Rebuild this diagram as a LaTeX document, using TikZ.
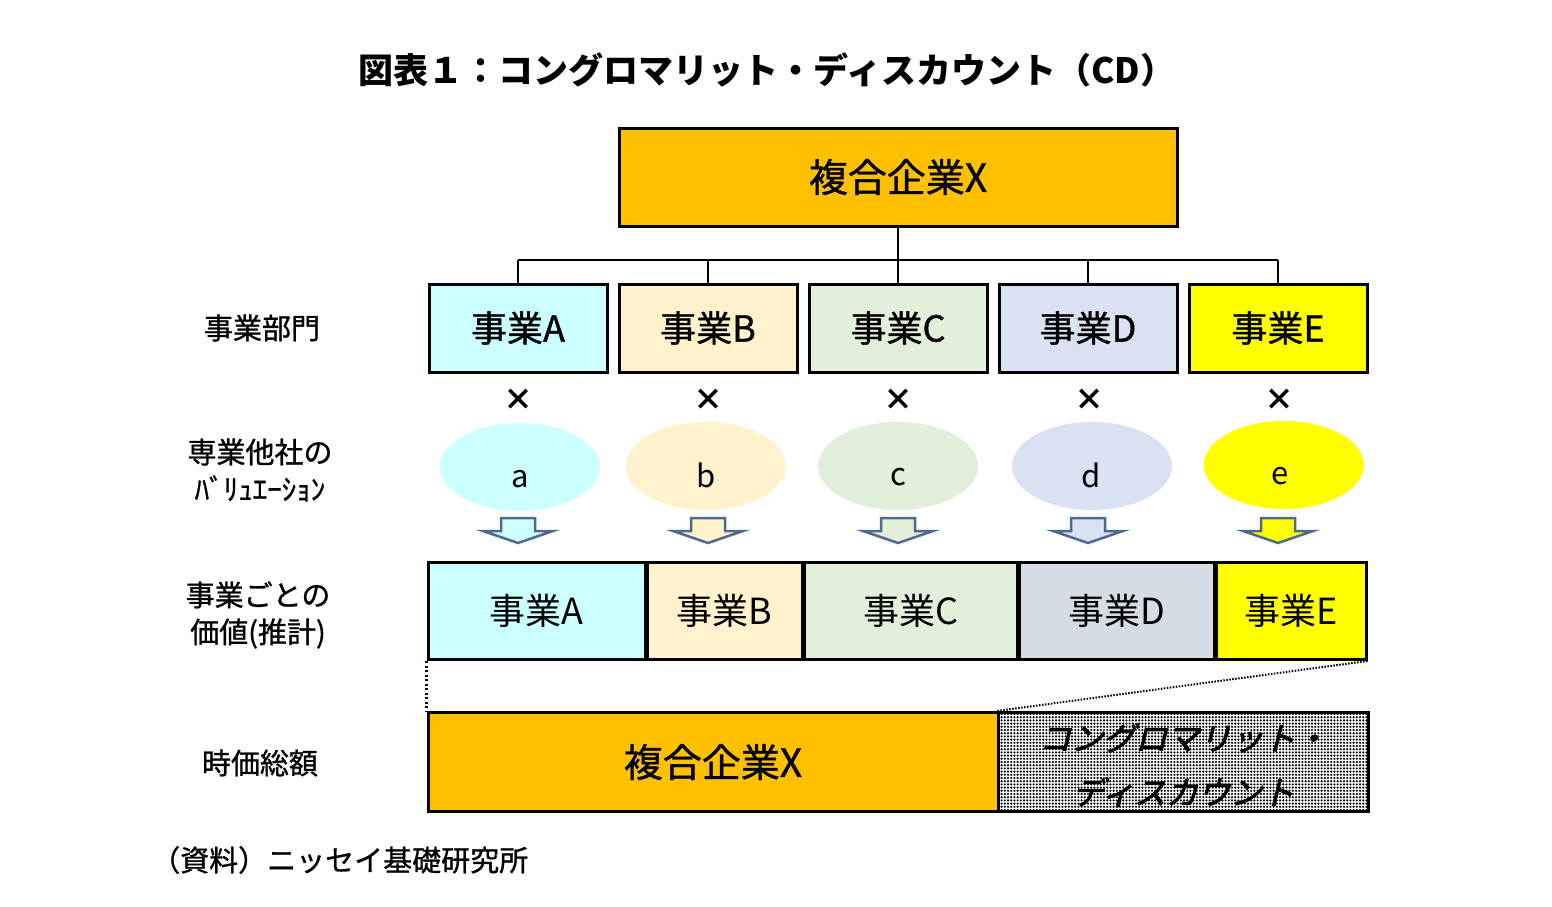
\documentclass[tikz,border=0pt]{standalone}
\usepackage{fontspec}
\setmainfont{Noto Sans CJK JP}
\newfontfamily\cjkmed[FakeBold=1.0]{Noto Sans CJK JP}
\newfontfamily\cjkbi[FakeSlant=0.25,FakeBold=2.5]{Noto Sans CJK JP}
\usetikzlibrary{patterns.meta,shapes.geometric}
\definecolor{cX}{HTML}{FFC000}
\definecolor{cA}{HTML}{CCFFFF}
\definecolor{cB}{HTML}{FFF2CC}
\definecolor{cC}{HTML}{E2EFDA}
\definecolor{cD}{HTML}{D9E1F2}
\definecolor{cDv}{HTML}{D6DCE4}
\definecolor{cE}{HTML}{FFFF00}
\definecolor{arr}{HTML}{4F6B8C}
\tikzset{
  box/.style={draw=black,line width=3pt,rectangle,inner sep=0pt,align=center},
  bizbox/.style={box,minimum width=178pt,minimum height=88pt,font=\cjkmed\fontsize{36}{40}\selectfont},
  valbox/.style={box,minimum height=97pt,font=\fontsize{36}{40}\selectfont},
  ell/.style={ellipse,draw=none,minimum width=160pt,minimum height=88pt,inner sep=0pt},
  elltext/.style={inner sep=0pt,font=\fontsize{31}{34}\selectfont},
  lbl/.style={align=center,inner sep=0pt,font=\cjkmed\fontsize{29}{37}\selectfont},
  times/.style={inner sep=0pt,font=\bfseries\fontsize{30}{34}\selectfont},
  blockarrow/.style={draw=arr,line width=2.5pt,line join=miter},
  conn/.style={draw=black,line width=2pt},
  dotline/.style={draw=black,line width=2.5pt,dash pattern=on 2pt off 2.5pt}
}
\newcommand{\blockarr}[3]{%
  \filldraw[blockarrow,fill=#3] (#1-17,#2) -- (#1+17,#2) -- (#1+17,#2+13) -- (#1+35,#2+13) -- (#1,#2+25) -- (#1-35,#2+13) -- (#1-17,#2+13) -- cycle;}
\begin{document}
\begin{tikzpicture}[x=1pt,y=-1pt]
\useasboundingbox[fill=white] (0,0) rectangle (1552,906);
% title
\node[inner sep=0pt,font=\bfseries\fontsize{35}{40}\selectfont] (title) at (767,70) {図表１：コングロマリット・ディスカウント（CD）};
% top box
\node[box,fill=cX,minimum width=558pt,minimum height=98pt,font=\cjkmed\fontsize{39}{44}\selectfont] (X) at (898,177) {複合企業X};
% business row
\node[bizbox,fill=cA] (bA) at (518,328) {事業A};
\node[bizbox,fill=cB] (bB) at (708,328) {事業B};
\node[bizbox,fill=cC] (bC) at (898,328) {事業C};
\node[bizbox,fill=cD] (bD) at (1088,328) {事業D};
\node[bizbox,fill=cE] (bE) at (1278,328) {事業E};
% tree connectors
\coordinate (j) at (898,260);
\draw[conn] (X.south) -- (j);
\draw[conn] (bA.north |- j) -- (bE.north |- j);
\foreach \n in {bA,bB,bC,bD,bE}{\draw[conn] (\n.north) -- (\n.north |- j);}
% labels
\node[lbl] (l1) at (262,328) {事業部門};
\node[lbl] (l2) at (260,470) {専業他社の\\ﾊﾞﾘｭｴｰｼｮﾝ};
\node[lbl] (l3) at (258,615) {事業ごとの\\価値(推計)};
\node[lbl] (l4) at (260,763) {時価総額};
% times
\node[times] (t1) at (518,400) {×};
\node[times] (t2) at (708,400) {×};
\node[times] (t3) at (898,400) {×};
\node[times] (t4) at (1089,400) {×};
\node[times] (t5) at (1279,400) {×};
% ellipses
\node[ell,fill=cA] (ea) at (520,467) {};
\node[ell,fill=cB] (eb) at (706,466) {};
\node[ell,fill=cC] (ec) at (898,466) {};
\node[ell,fill=cD] (ed) at (1092,466) {};
\node[ell,fill=cE] (ee) at (1284,465) {};
\node[elltext,anchor=base] (ta) at (520,487) {a};
\node[elltext,anchor=base] (tb) at (706,487) {b};
\node[elltext,anchor=base] (tc) at (898,485) {c};
\node[elltext,anchor=base] (td) at (1091,487) {d};
\node[elltext,anchor=base] (te) at (1280,484) {e};
% block arrows
\blockarr{518}{518}{cA}
\blockarr{708}{518}{cB}
\blockarr{898}{518}{cC}
\blockarr{1088}{518}{cD}
\blockarr{1278}{518}{cE}
% value row
\node[valbox,fill=cA,minimum width=217pt] (vA) at (536.5,611) {事業A};
\node[valbox,fill=cB,minimum width=155pt] (vB) at (724.5,611) {事業B};
\node[valbox,fill=cC,minimum width=213pt] (vC) at (910.5,611) {事業C};
\node[valbox,fill=cDv,minimum width=195pt] (vD) at (1116.5,611) {事業D};
\node[valbox,fill=cE,minimum width=150pt] (vE) at (1291,611) {事業E};
% market cap row
\node[box,fill=cX,minimum width=570pt,minimum height=99pt,font=\cjkmed\fontsize{39}{44}\selectfont] (mX) at (713,762) {複合企業X};
\node[box,pattern={Dots[distance=3.2pt,radius=1.2pt]},pattern color=black,minimum width=370pt,minimum height=99pt] (cd) at (1183,762) {};
\node[inner sep=0pt,font=\cjkbi\fontsize{32}{34}\selectfont] (cdt1) at (1183,738) {コングロマリット・};
\node[inner sep=0pt,font=\cjkbi\fontsize{32}{34}\selectfont] (cdt2) at (1183,792) {ディスカウント};
% dotted connectors
\draw[dotline] (vA.south west) -- (mX.north west);
\draw[draw=black,line width=2pt,dash pattern=on 1.5pt off 1.5pt] (vE.south east) -- (cd.north west);
% footer
\node[inner sep=0pt,anchor=west,font=\cjkmed\fontsize{29}{32}\selectfont] (src) at (151,860) {（資料）ニッセイ基礎研究所};
\end{tikzpicture}
\end{document}
